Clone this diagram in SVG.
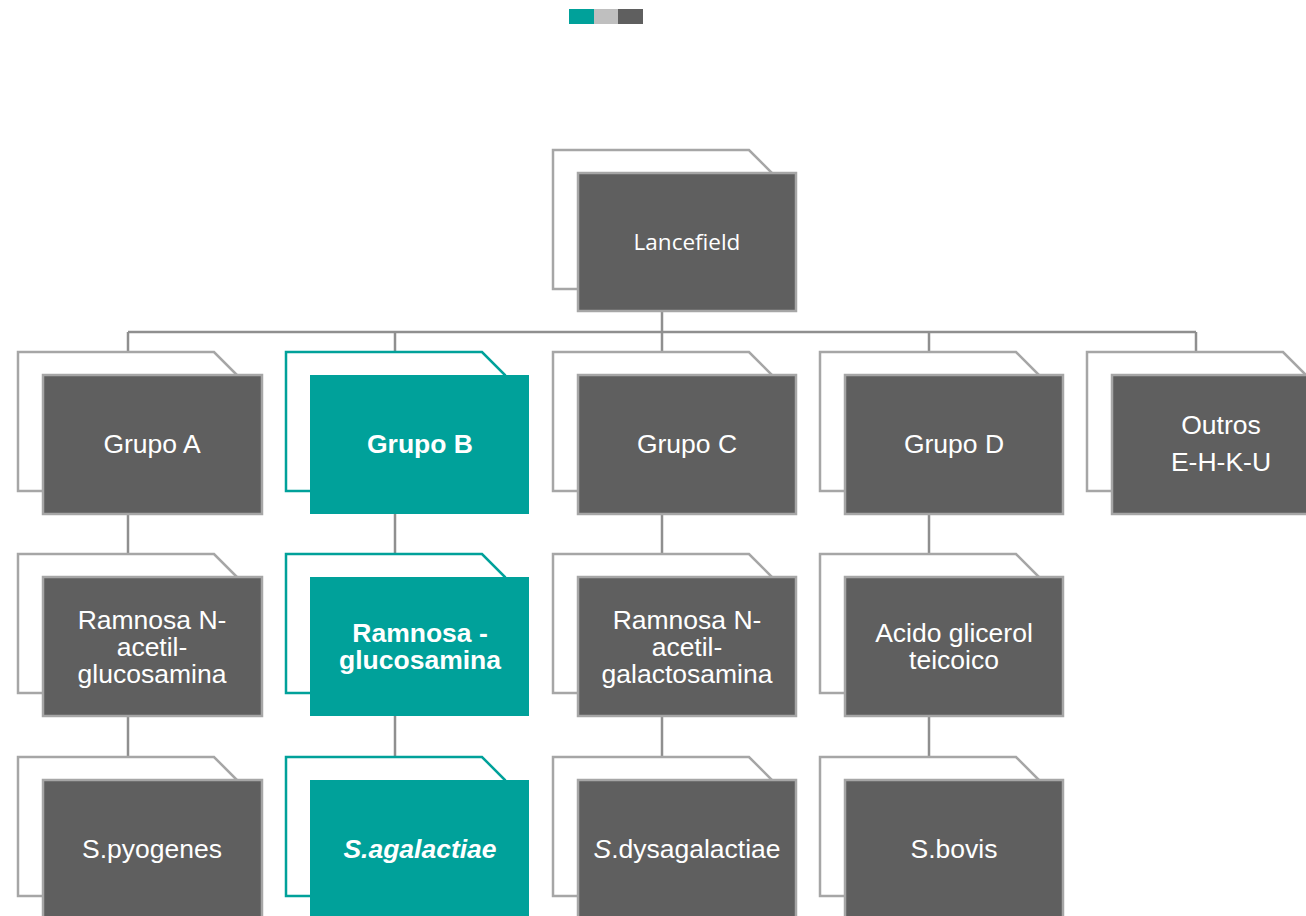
<svg xmlns="http://www.w3.org/2000/svg" width="1306" height="916" viewBox="0 0 1306 916">
<defs>
<style>
.bg{fill:#ffffff;stroke:#a6a6a6;stroke-width:2.5}
.bgt{fill:#ffffff;stroke:#00a19a;stroke-width:2.5}
.fr{fill:#5f5f5f;stroke:#a6a6a6;stroke-width:2.5}
.frt{fill:#00a19a}
.t{font-family:"Liberation Sans",Arial,sans-serif;font-size:26.5px;fill:#ffffff;text-anchor:middle}
.b{font-weight:bold}
.c{stroke:#8f8f8f;stroke-width:2.5;fill:none}
</style>
<path id="back" d="M0,0 H196 L219,23 V139 H0 Z"/>
</defs>
<rect x="569" y="9" width="25" height="15" fill="#00a19a"/>
<rect x="594" y="9" width="24" height="15" fill="#bfbfbf"/>
<rect x="618" y="9" width="25" height="15" fill="#5f5f5f"/>
<g id="connectors">
<path class="c" d="M662,311 V332 M128,332 H1196 M128,332 V352 M395,332 V352 M662,332 V352 M929,332 V352 M1196,332 V352"/>
<path class="c" d="M128,514 V554 M395,514 V554 M662,514 V554 M929,514 V554"/>
<path class="c" d="M128,716 V757 M395,716 V757 M662,716 V757 M929,716 V757"/>
</g>
<g id="lancefield">
<use href="#back" class="bg" x="553" y="150"/>
<rect class="fr" x="578" y="173" width="218" height="138"/>
<text x="687" y="250" style="font-family:'Open Sans','Noto Sans',sans-serif;font-size:22.5px;fill:#fff;text-anchor:middle">Lancefield</text>
</g>
<g id="grupoA">
<use href="#back" class="bg" x="18" y="352"/>
<rect class="fr" x="43" y="375" width="219" height="139"/>
<text class="t" x="152" y="453">Grupo A</text>
</g>
<g id="grupoB">
<use href="#back" class="bgt" x="286" y="352"/>
<rect class="frt" x="310" y="375" width="219" height="139"/>
<text class="t b" x="420" y="453">Grupo B</text>
</g>
<g id="grupoC">
<use href="#back" class="bg" x="553" y="352"/>
<rect class="fr" x="578" y="375" width="218" height="139"/>
<text class="t" x="687" y="453">Grupo C</text>
</g>
<g id="grupoD">
<use href="#back" class="bg" x="820" y="352"/>
<rect class="fr" x="845" y="375" width="218" height="139"/>
<text class="t" x="954" y="453">Grupo D</text>
</g>
<g id="outros">
<use href="#back" class="bg" x="1087" y="352"/>
<rect class="fr" x="1112" y="375" width="218" height="139"/>
<text class="t" x="1221" y="434">Outros</text>
<text class="t" x="1221" y="471">E-H-K-U</text>
</g>
<g id="ramnosaA">
<use href="#back" class="bg" x="18" y="554"/>
<rect class="fr" x="43" y="577" width="219" height="139"/>
<text class="t" x="152" y="629">Ramnosa N-</text>
<text class="t" x="152" y="656">acetil-</text>
<text class="t" x="152" y="683">glucosamina</text>
</g>
<g id="ramnosaB">
<use href="#back" class="bgt" x="286" y="554"/>
<rect class="frt" x="310" y="577" width="219" height="139"/>
<text class="t b" x="420" y="642">Ramnosa -</text>
<text class="t b" x="420" y="669">glucosamina</text>
</g>
<g id="ramnosaC">
<use href="#back" class="bg" x="553" y="554"/>
<rect class="fr" x="578" y="577" width="218" height="139"/>
<text class="t" x="687" y="629">Ramnosa N-</text>
<text class="t" x="687" y="656">acetil-</text>
<text class="t" x="687" y="683">galactosamina</text>
</g>
<g id="acidoD">
<use href="#back" class="bg" x="820" y="554"/>
<rect class="fr" x="845" y="577" width="218" height="139"/>
<text class="t" x="954" y="642">Acido glicerol</text>
<text class="t" x="954" y="669">teicoico</text>
</g>
<g id="pyogenes">
<use href="#back" class="bg" x="18" y="757"/>
<rect class="fr" x="43" y="780" width="219" height="139"/>
<text class="t" x="152" y="858">S.pyogenes</text>
</g>
<g id="agalactiae">
<use href="#back" class="bgt" x="286" y="757"/>
<rect class="frt" x="310" y="780" width="219" height="139"/>
<text class="t b" x="420" y="858" font-style="italic">S.agalactiae</text>
</g>
<g id="dysagalactiae">
<use href="#back" class="bg" x="553" y="757"/>
<rect class="fr" x="578" y="780" width="218" height="139"/>
<text class="t" x="687" y="858"><tspan font-style="italic">S</tspan>.dysagalactiae</text>
</g>
<g id="bovis">
<use href="#back" class="bg" x="820" y="757"/>
<rect class="fr" x="845" y="780" width="218" height="139"/>
<text class="t" x="954" y="858">S.bovis</text>
</g>
</svg>
